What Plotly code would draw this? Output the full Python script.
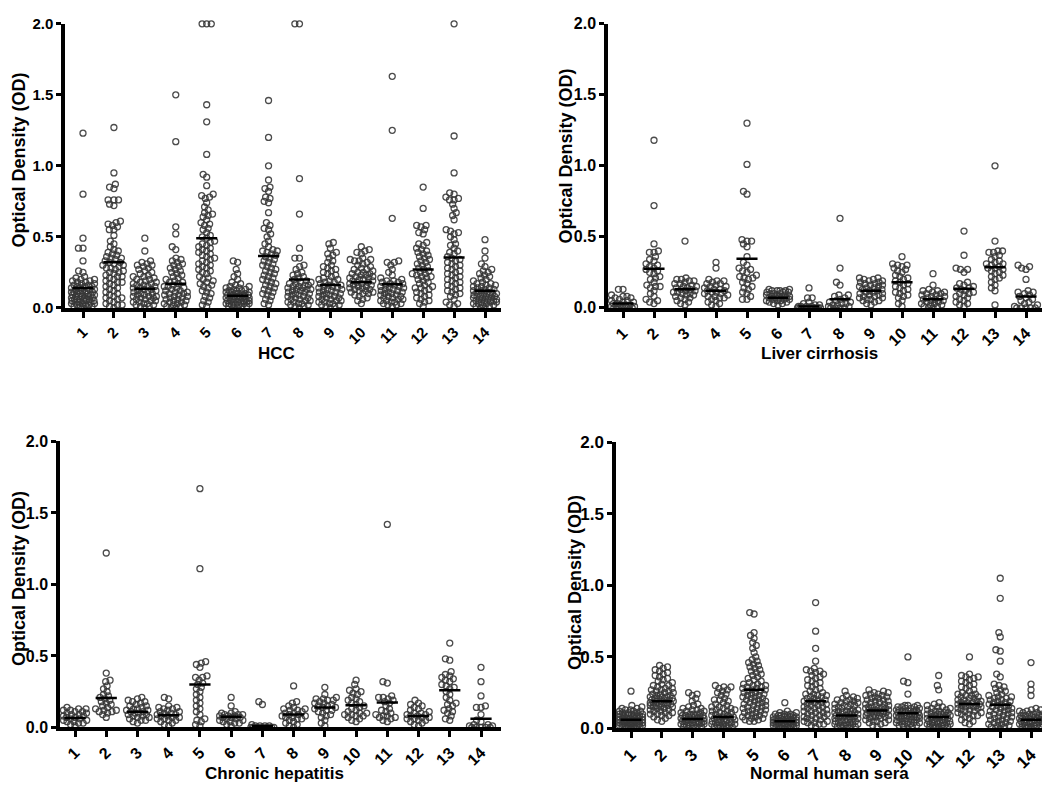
import math
import plotly.graph_objects as go

# ---------------- data (OD x 100) ----------------
categories = [str(i) for i in range(1, 15)]

hcc = [
    [123, 80, 49, 42, 42, 33, 26, 25, 22, 21, 20, 20, 19, 19, 18, 18, 17, 17, 16, 16, 15, 15, 15, 14, 14, 13, 13, 13, 12, 12, 12, 11, 11, 11, 10, 10, 10, 10, 9, 9, 9, 8, 8, 8, 8, 7, 7, 7, 6, 6, 6, 6, 5, 5, 5, 5, 4, 4, 4, 3, 3, 3, 2, 2, 2, 1, 1, 1, 0, 0, 0],
    [127, 95, 87, 85, 84, 76, 76, 76, 73, 72, 61, 60, 59, 58, 57, 55, 55, 51, 47, 45, 43, 41, 40, 39, 38, 37, 36, 35, 35, 34, 33, 32, 32, 31, 30, 30, 29, 28, 28, 27, 26, 25, 25, 24, 23, 22, 22, 21, 20, 19, 18, 18, 17, 16, 15, 14, 13, 12, 11, 10, 9, 8, 7, 7, 6, 5, 4, 3, 2, 2, 1, 0],
    [49, 40, 33, 32, 31, 30, 30, 29, 28, 27, 26, 25, 24, 23, 22, 22, 21, 20, 20, 19, 18, 18, 17, 17, 16, 16, 15, 15, 14, 14, 13, 13, 12, 12, 11, 11, 10, 10, 9, 9, 8, 8, 8, 7, 7, 6, 6, 5, 5, 4, 4, 3, 3, 2, 2, 1, 1, 0],
    [150, 117, 57, 52, 43, 41, 35, 34, 33, 32, 31, 30, 29, 28, 27, 26, 25, 24, 23, 22, 21, 20, 19, 18, 18, 17, 16, 15, 15, 14, 14, 13, 12, 12, 11, 11, 10, 10, 9, 9, 8, 8, 7, 7, 6, 6, 5, 5, 4, 4, 3, 3, 2, 2, 1, 1, 0, 0],
    [200, 200, 200, 143, 131, 108, 94, 92, 86, 80, 79, 78, 77, 74, 71, 69, 67, 66, 65, 64, 62, 60, 59, 58, 56, 55, 53, 51, 50, 49, 47, 46, 45, 44, 43, 42, 41, 40, 39, 38, 37, 36, 35, 34, 33, 32, 31, 30, 29, 28, 27, 26, 25, 24, 22, 21, 20, 19, 18, 17, 16, 15, 14, 12, 11, 10, 8, 7, 5, 4, 2, 1],
    [33, 32, 27, 24, 22, 20, 18, 17, 16, 15, 15, 14, 14, 13, 13, 12, 12, 12, 11, 11, 11, 10, 10, 10, 9, 9, 9, 9, 8, 8, 8, 8, 7, 7, 7, 7, 6, 6, 6, 6, 5, 5, 5, 5, 4, 4, 4, 4, 3, 3, 3, 3, 2, 2, 2, 1, 1, 1, 0, 0],
    [146, 120, 100, 90, 85, 84, 82, 78, 77, 75, 74, 67, 60, 58, 56, 55, 52, 50, 47, 45, 43, 41, 40, 40, 39, 38, 37, 36, 35, 34, 33, 32, 31, 30, 29, 28, 27, 26, 25, 24, 23, 22, 21, 20, 19, 18, 17, 16, 15, 14, 13, 12, 11, 10, 9, 8, 6, 5, 3, 2],
    [200, 200, 91, 66, 42, 35, 35, 30, 29, 27, 25, 24, 23, 22, 21, 20, 19, 18, 18, 17, 17, 16, 16, 15, 15, 14, 14, 13, 13, 13, 12, 12, 11, 11, 10, 10, 9, 9, 8, 8, 7, 7, 6, 6, 5, 5, 4, 4, 3, 3, 2, 2, 1, 1, 0],
    [46, 45, 42, 39, 38, 37, 35, 33, 32, 30, 29, 28, 27, 26, 25, 24, 23, 22, 21, 20, 20, 19, 18, 18, 17, 16, 16, 15, 15, 14, 14, 13, 13, 12, 12, 11, 11, 10, 10, 9, 9, 8, 8, 7, 7, 6, 6, 5, 5, 4, 4, 3, 3, 2, 2, 1, 1, 0],
    [43, 41, 40, 39, 38, 35, 34, 34, 33, 33, 32, 31, 30, 29, 28, 27, 27, 26, 25, 25, 24, 24, 23, 23, 22, 22, 21, 21, 20, 20, 19, 19, 18, 18, 17, 17, 16, 16, 15, 15, 14, 14, 13, 13, 12, 12, 11, 11, 10, 10, 9, 8, 7, 6, 5, 3],
    [163, 125, 63, 33, 32, 32, 30, 27, 25, 23, 21, 20, 19, 19, 18, 18, 17, 17, 16, 16, 15, 15, 14, 14, 13, 13, 12, 12, 11, 11, 10, 10, 9, 9, 8, 8, 7, 7, 6, 6, 5, 5, 4, 4, 3, 3, 2, 2, 1],
    [85, 70, 58, 58, 57, 55, 53, 52, 46, 45, 44, 42, 41, 40, 39, 38, 37, 36, 35, 34, 33, 32, 31, 30, 29, 28, 27, 26, 25, 24, 24, 23, 22, 22, 21, 20, 19, 18, 17, 16, 15, 14, 14, 13, 12, 11, 10, 9, 8, 7, 6, 5, 4, 3, 1],
    [200, 121, 95, 81, 80, 78, 77, 76, 76, 73, 70, 67, 65, 62, 55, 54, 53, 52, 50, 48, 45, 44, 42, 40, 39, 38, 36, 35, 34, 33, 32, 31, 30, 29, 28, 27, 26, 25, 24, 23, 22, 21, 20, 19, 18, 17, 16, 15, 14, 13, 12, 11, 10, 9, 8, 6, 4, 3, 2, 1],
    [48, 40, 35, 31, 29, 27, 26, 25, 24, 23, 22, 21, 20, 19, 18, 17, 17, 16, 16, 15, 15, 14, 14, 13, 13, 12, 12, 11, 11, 10, 10, 10, 9, 9, 9, 8, 8, 8, 7, 7, 7, 6, 6, 6, 5, 5, 5, 4, 4, 4, 3, 3, 3, 2, 2, 1, 1, 0, 0],
]
hcc_means = [0.14, 0.32, 0.135, 0.17, 0.49, 0.085, 0.365, 0.20, 0.16, 0.18, 0.165, 0.27, 0.355, 0.12]

lc = [
    [13, 13, 9, 8, 8, 7, 7, 6, 5, 5, 4, 4, 3, 3, 2, 2, 2, 1, 1, 1, 0, 0, 0, 0, 0],
    [118, 72, 45, 40, 39, 39, 36, 34, 33, 31, 30, 29, 28, 27, 26, 25, 24, 22, 21, 20, 18, 16, 15, 15, 14, 12, 10, 8, 6, 5, 4, 3],
    [47, 21, 20, 20, 19, 19, 18, 17, 17, 16, 15, 15, 14, 14, 13, 13, 12, 12, 11, 11, 10, 10, 9, 9, 8, 7, 7, 6, 5, 4, 3, 2],
    [32, 28, 20, 19, 19, 18, 17, 17, 16, 15, 15, 14, 13, 13, 12, 12, 11, 11, 10, 10, 9, 8, 8, 7, 7, 6, 5, 4, 3, 2, 1],
    [130, 101, 82, 80, 48, 47, 47, 45, 43, 36, 32, 30, 28, 27, 26, 25, 23, 22, 21, 21, 20, 18, 17, 15, 14, 13, 11, 10, 8, 6, 6],
    [13, 13, 12, 12, 12, 12, 11, 11, 11, 10, 10, 10, 9, 9, 9, 8, 8, 8, 7, 7, 7, 7, 6, 6, 6, 5, 5, 5, 4, 4, 3, 3, 2],
    [14, 7, 7, 4, 3, 2, 2, 1, 1, 1, 1, 0, 0, 0, 0, 0, 0, 0, 0, 0],
    [63, 28, 18, 16, 9, 9, 8, 7, 6, 5, 4, 4, 3, 3, 2, 2, 1, 1, 0, 0, 0, 0],
    [21, 21, 20, 20, 19, 19, 18, 18, 17, 17, 16, 16, 15, 15, 14, 14, 13, 13, 12, 12, 11, 11, 10, 10, 9, 9, 8, 8, 7, 7, 6, 6, 5, 5, 4, 3, 2],
    [36, 31, 30, 30, 29, 28, 27, 26, 25, 23, 22, 21, 20, 19, 18, 17, 16, 15, 14, 13, 12, 11, 10, 9, 8, 7, 5, 3, 1],
    [24, 16, 13, 12, 12, 11, 11, 10, 10, 9, 9, 8, 8, 7, 7, 6, 6, 5, 5, 4, 4, 3, 3, 2, 2, 1, 1, 0, 0],
    [54, 37, 28, 27, 27, 25, 18, 17, 16, 15, 14, 14, 13, 12, 11, 10, 10, 9, 8, 7, 6, 5, 4, 3, 2, 1],
    [100, 47, 40, 40, 39, 39, 37, 36, 34, 33, 32, 31, 31, 30, 29, 28, 28, 27, 26, 25, 24, 23, 22, 21, 20, 18, 16, 14, 12, 2],
    [30, 29, 28, 27, 20, 12, 11, 11, 10, 9, 8, 7, 6, 5, 4, 3, 2, 1, 0, 0, 0, 0, 0],
]
lc_means = [0.03, 0.275, 0.13, 0.12, 0.345, 0.07, 0.01, 0.06, 0.12, 0.18, 0.06, 0.135, 0.285, 0.08]

ch = [
    [14, 13, 13, 12, 12, 11, 11, 10, 10, 9, 9, 8, 8, 7, 7, 6, 6, 5, 5, 4, 4, 3, 3, 2, 1],
    [122, 38, 33, 32, 29, 27, 25, 23, 22, 21, 20, 19, 18, 17, 16, 15, 14, 13, 12, 12, 11, 11, 10, 9, 7],
    [21, 20, 19, 18, 18, 17, 16, 15, 15, 14, 13, 13, 12, 12, 11, 11, 10, 10, 9, 9, 8, 8, 7, 7, 6, 5, 5, 4, 3],
    [21, 20, 15, 14, 14, 13, 13, 12, 11, 11, 10, 10, 9, 9, 8, 8, 7, 7, 6, 6, 5, 5, 4, 3, 2, 1],
    [167, 111, 46, 45, 44, 42, 36, 35, 35, 33, 31, 30, 28, 27, 25, 23, 21, 19, 17, 15, 13, 11, 9, 6, 5, 4, 2, 1],
    [21, 15, 11, 10, 10, 9, 9, 9, 8, 8, 8, 7, 7, 7, 6, 6, 5, 5, 4, 4, 3, 3, 2, 1],
    [18, 16, 2, 1, 1, 1, 1, 0, 0, 0, 0, 0, 0, 0],
    [29, 18, 17, 15, 14, 13, 13, 12, 12, 11, 10, 10, 9, 9, 8, 8, 7, 7, 6, 6, 5, 4, 3, 2, 1, 0],
    [28, 23, 21, 20, 20, 19, 19, 18, 17, 17, 16, 15, 15, 14, 14, 13, 12, 12, 11, 10, 9, 8, 7, 5, 3, 1],
    [33, 30, 27, 26, 25, 24, 23, 21, 20, 19, 18, 17, 16, 15, 14, 13, 12, 11, 10, 10, 9, 9, 8, 8, 7, 6, 5, 4],
    [142, 32, 31, 22, 21, 21, 20, 19, 18, 17, 15, 13, 12, 11, 10, 9, 8, 8, 7, 7, 6, 5, 4],
    [19, 17, 16, 15, 14, 13, 12, 11, 10, 10, 9, 9, 8, 8, 7, 7, 6, 6, 5, 5, 4, 3, 2, 1],
    [59, 48, 47, 39, 37, 36, 35, 34, 33, 32, 30, 29, 28, 27, 25, 23, 21, 19, 17, 16, 15, 13, 12, 11, 10, 8, 6, 5],
    [42, 32, 22, 15, 14, 14, 9, 5, 4, 2, 2, 1, 1, 0, 0, 0, 0, 0],
]
ch_means = [0.065, 0.205, 0.11, 0.085, 0.30, 0.075, 0.01, 0.09, 0.14, 0.155, 0.175, 0.08, 0.26, 0.06]

nhs = [
    [26, 16, 15, 14, 14, 13, 13, 12, 12, 12, 11, 11, 11, 10, 10, 10, 10, 9, 9, 9, 9, 8, 8, 8, 8, 8, 7, 7, 7, 7, 7, 6, 6, 6, 6, 6, 6, 5, 5, 5, 5, 5, 5, 4, 4, 4, 4, 4, 4, 3, 3, 3, 3, 3, 2, 2, 2, 2, 1, 1, 1, 1, 0, 0, 0],
    [44, 43, 42, 41, 40, 39, 38, 37, 36, 35, 34, 33, 32, 31, 30, 30, 29, 28, 28, 27, 27, 26, 26, 25, 25, 24, 24, 23, 23, 22, 22, 22, 21, 21, 21, 20, 20, 20, 19, 19, 19, 18, 18, 18, 17, 17, 17, 16, 16, 16, 15, 15, 15, 14, 14, 13, 13, 12, 12, 11, 11, 10, 10, 9, 9, 8, 7, 6, 5],
    [25, 24, 23, 21, 19, 17, 16, 15, 14, 14, 13, 13, 12, 12, 11, 11, 10, 10, 10, 9, 9, 9, 8, 8, 8, 8, 7, 7, 7, 7, 6, 6, 6, 6, 5, 5, 5, 5, 4, 4, 4, 4, 3, 3, 3, 3, 2, 2, 2, 1, 1, 1, 0, 0],
    [30, 29, 29, 28, 27, 26, 25, 24, 23, 21, 20, 20, 19, 18, 17, 16, 15, 15, 14, 14, 13, 13, 12, 12, 11, 11, 10, 10, 9, 9, 8, 8, 8, 7, 7, 7, 6, 6, 6, 5, 5, 5, 4, 4, 4, 3, 3, 3, 2, 2, 2, 1, 1, 1, 0, 0, 0],
    [81, 80, 67, 65, 63, 60, 58, 56, 53, 50, 48, 47, 46, 45, 44, 43, 42, 41, 40, 39, 38, 37, 36, 35, 34, 33, 32, 31, 31, 30, 30, 29, 29, 28, 28, 27, 27, 26, 26, 25, 25, 24, 24, 23, 23, 22, 22, 21, 21, 20, 20, 19, 19, 18, 18, 17, 17, 16, 16, 15, 15, 14, 14, 13, 13, 12, 12, 11, 11, 10, 10, 9, 9, 8, 8, 7, 7, 6, 6, 5, 5],
    [18, 12, 11, 11, 10, 10, 10, 9, 9, 9, 9, 8, 8, 8, 8, 7, 7, 7, 7, 6, 6, 6, 6, 6, 5, 5, 5, 5, 5, 4, 4, 4, 4, 4, 3, 3, 3, 3, 3, 2, 2, 2, 2, 1, 1, 1, 1, 0, 0, 0],
    [88, 68, 56, 47, 42, 41, 40, 40, 39, 38, 37, 36, 35, 34, 33, 32, 31, 30, 29, 28, 27, 26, 25, 24, 24, 23, 23, 22, 22, 21, 21, 20, 20, 19, 19, 18, 18, 17, 17, 16, 16, 15, 15, 14, 14, 13, 13, 12, 12, 11, 11, 10, 10, 9, 9, 8, 8, 7, 7, 6, 6, 5, 5, 4, 4, 3, 3, 2, 1],
    [26, 23, 22, 21, 21, 20, 20, 19, 19, 18, 18, 17, 17, 16, 16, 15, 15, 14, 14, 13, 13, 12, 12, 12, 11, 11, 11, 10, 10, 10, 9, 9, 9, 8, 8, 8, 7, 7, 7, 6, 6, 6, 5, 5, 5, 4, 4, 4, 3, 3, 3, 2, 2, 2, 1, 1, 1, 0, 0],
    [27, 26, 25, 25, 24, 24, 23, 23, 22, 22, 21, 21, 20, 20, 19, 19, 18, 18, 17, 17, 16, 16, 15, 15, 15, 14, 14, 14, 13, 13, 13, 12, 12, 12, 11, 11, 11, 10, 10, 10, 9, 9, 9, 8, 8, 8, 7, 7, 6, 6, 5, 5, 4, 4, 3, 2, 1],
    [50, 33, 32, 24, 16, 16, 16, 15, 15, 15, 14, 14, 14, 13, 13, 13, 12, 12, 12, 11, 11, 11, 10, 10, 10, 10, 9, 9, 9, 9, 8, 8, 8, 8, 7, 7, 7, 6, 6, 6, 5, 5, 5, 4, 4, 4, 3, 3, 3, 2, 2, 1, 1, 0],
    [37, 30, 27, 18, 17, 16, 15, 15, 14, 14, 13, 13, 12, 12, 11, 11, 11, 10, 10, 10, 9, 9, 9, 8, 8, 8, 7, 7, 7, 6, 6, 6, 5, 5, 5, 5, 4, 4, 4, 4, 3, 3, 3, 3, 2, 2, 2, 1, 1, 1, 0, 0, 0],
    [50, 38, 37, 36, 36, 35, 34, 33, 32, 31, 30, 29, 28, 27, 26, 25, 24, 24, 23, 23, 22, 22, 21, 21, 20, 20, 19, 19, 18, 18, 18, 17, 17, 17, 16, 16, 16, 15, 15, 15, 14, 14, 13, 13, 12, 12, 11, 11, 10, 10, 9, 9, 8, 7, 6, 5, 4, 3],
    [105, 91, 67, 64, 55, 54, 47, 38, 36, 31, 30, 29, 28, 27, 26, 25, 24, 23, 22, 22, 21, 21, 20, 20, 19, 19, 18, 18, 17, 17, 16, 16, 15, 15, 14, 14, 13, 13, 12, 12, 11, 11, 10, 10, 9, 9, 8, 8, 7, 7, 6, 6, 5, 5, 4, 4, 3, 3, 2, 2, 1, 1, 0, 0],
    [46, 31, 27, 23, 14, 13, 13, 12, 12, 11, 11, 10, 10, 10, 9, 9, 9, 8, 8, 8, 7, 7, 7, 6, 6, 6, 6, 5, 5, 5, 5, 4, 4, 4, 4, 3, 3, 3, 3, 2, 2, 2, 1, 1, 1, 0, 0, 0],
]
nhs_means = [0.06, 0.19, 0.065, 0.08, 0.27, 0.05, 0.19, 0.09, 0.125, 0.105, 0.08, 0.17, 0.165, 0.06]

panel_titles = ["HCC", "Liver cirrhosis", "Chronic hepatitis", "Normal human sera"]
y_title = "Optical Density (OD)"
y_ticks = [0, 0.5, 1.0, 1.5, 2.0]
y_ticktext = ["0.0", "0.5", "1.0", "1.5", "2.0"]

# ---------------- layout helpers ----------------
W, H = 1050, 786


def beeswarm(vals, ypx, xpx, d=4.6, maxoff=0.38):
    """Deterministic beeswarm: horizontal offsets (in category units)."""
    placed = []
    offs = [0.0] * len(vals)
    lim = maxoff * xpx
    order = sorted(range(len(vals)), key=lambda k: vals[k])
    for k in order:
        y = vals[k] * ypx
        ivs = []
        for (px, py) in placed:
            dy = abs(py - y)
            if dy < d:
                w = math.sqrt(d * d - dy * dy)
                ivs.append((px - w, px + w))
        cands = [0.0] + [a for a, b in ivs] + [b for a, b in ivs]
        cands.sort(key=lambda c: (abs(c), c))
        chosen = None
        for c in cands:
            if abs(c) > lim:
                break
            if all(not (a + 1e-6 < c < b - 1e-6) for a, b in ivs):
                chosen = c
                break
        if chosen is None:
            best, bestd = 0.0, -1
            steps = int(lim / 0.5)
            for s in range(-steps, steps + 1):
                c = s * 0.5
                md = min(math.hypot(c - px, y - py) for (px, py) in placed)
                if md > bestd:
                    bestd, best = md, c
            chosen = best
        placed.append((chosen, y))
        offs[k] = chosen / xpx
    return offs


# panel geometry in pixels: (x_left, x_right, y_top(2.0), y_bottom(0.0), cat1_px, cat14_px)
panels_px = [
    (57, 493, 7, 298, 75, 477),
    (600, 1037, 7, 298, 615, 1018),
    (52, 493, 435, 728, 67, 473),
    (608, 1045, 436, 729, 623, 1023),
]
tick_sizes = [15, 16, 16, 17]
title_pos = [(268, 345), (811, 345), (266, 775), (821, 775)]
ytitle_pos = [(11, 147), (558, 143), (11, 576), (567, 580)]

datasets = [hcc, lc, ch, nhs]
means = [hcc_means, lc_means, ch_means, nhs_means]

fig = go.Figure()
font_family = "Liberation Sans, Arial, sans-serif"
annotations = []

for p in range(4):
    xl, xr, yt, yb, c1, c14 = panels_px[p]
    sp = (c14 - c1) / 13.0
    xr0 = 1 - (c1 - xl) / sp
    xr1 = 14 + (xr - c14) / sp
    ypx = (yb - yt) / 2.0
    ax = "" if p == 0 else str(p + 1)
    xs, ys = [], []
    for ci, grp in enumerate(datasets[p]):
        vals = [v / 100.0 for v in grp]
        offs = beeswarm(vals, ypx, sp)
        for v, o in zip(vals, offs):
            xs.append(ci + 1 + o)
            ys.append(v)
    fig.add_trace(go.Scatter(
        x=xs, y=ys, mode="markers", xaxis="x" + ax, yaxis="y" + ax,
        marker=dict(symbol="circle-open", size=6, color="rgba(55,55,55,0.9)",
                    line=dict(width=1.3)),
        cliponaxis=False, showlegend=False, hoverinfo="y"))
    lx, ly = [], []
    for ci, m in enumerate(means[p]):
        lx += [ci + 1 - 0.34, ci + 1 + 0.34, None]
        ly += [m, m, None]
    fig.add_trace(go.Scatter(
        x=lx, y=ly, mode="lines", xaxis="x" + ax, yaxis="y" + ax,
        line=dict(color="black", width=2.5), cliponaxis=False,
        showlegend=False, hoverinfo="skip"))

    tf = dict(family=font_family, size=tick_sizes[p], color="black", weight="bold")
    fig.update_layout(**{
        "xaxis" + ax: dict(
            domain=[xl / W, xr / W], range=[xr0, xr1], anchor="y" + ax,
            tickvals=list(range(1, 15)), ticktext=categories, tickangle=-45,
            showline=True, linewidth=3.5, linecolor="black", ticks="outside",
            ticklen=6, tickwidth=3, tickcolor="black", showgrid=False,
            zeroline=False, tickfont=tf),
        "yaxis" + ax: dict(
            domain=[1 - yb / H, 1 - yt / H], range=[0, 2.0], anchor="x" + ax,
            tickvals=y_ticks, ticktext=y_ticktext,
            showline=True, linewidth=3.5, linecolor="black", ticks="outside",
            ticklen=5, tickwidth=2.5, tickcolor="black", showgrid=False,
            zeroline=False, tickfont=tf),
    })
    tx, ty = title_pos[p]
    annotations.append(dict(
        text=panel_titles[p], x=tx / W, y=1 - ty / H, xref="paper", yref="paper",
        showarrow=False, xanchor="center", yanchor="middle",
        font=dict(family=font_family, size=17, color="black", weight="bold")))
    yx, yy = ytitle_pos[p]
    annotations.append(dict(
        text=y_title, x=yx / W, y=1 - yy / H, xref="paper", yref="paper",
        showarrow=False, xanchor="center", yanchor="middle", textangle=-90,
        font=dict(family=font_family, size=18, color="black", weight="bold")))

fig.update_layout(
    width=W, height=H, margin=dict(l=0, r=0, t=0, b=0),
    paper_bgcolor="white", plot_bgcolor="white",
    annotations=annotations,
)

fig.write_html("out.html")
